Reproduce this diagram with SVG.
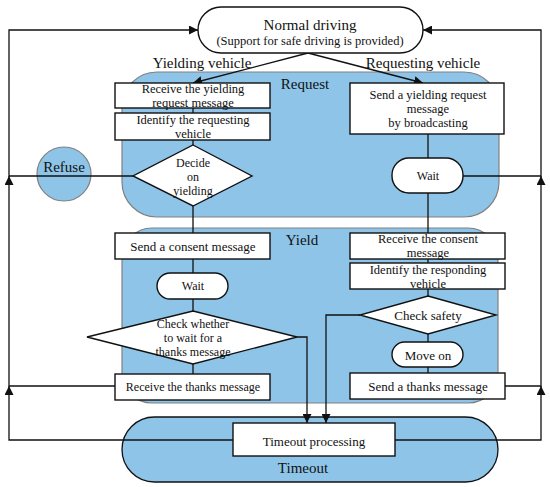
<svg xmlns="http://www.w3.org/2000/svg" width="550" height="487" viewBox="0 0 550 487">
<defs>
<style>
text{font-family:"Liberation Serif","Times New Roman",serif;fill:#111;text-anchor:middle;dominant-baseline:central}
.t13{font-size:13px}
.t12{font-size:12px}
.t125{font-size:12.5px}
.lbl{font-size:15px}
.region{fill:#8DC4E8;stroke:#808080;stroke-width:1.2}
.box{fill:#fff;stroke:#111;stroke-width:1.4}
.line{fill:none;stroke:#111;stroke-width:1.3}
</style>
<marker id="arr" viewBox="0 0 10 10" refX="10" refY="5" markerWidth="9" markerHeight="9" markerUnits="userSpaceOnUse" orient="auto">
<path d="M0,0 L10,5 L0,10 z" fill="#111"/>
</marker>
</defs>

<g id="regions">
<rect id="request-region" class="region" x="122" y="72" width="377" height="145" rx="35" ry="35"/>
<rect id="yield-region" class="region" x="122" y="228" width="376" height="175" rx="30" ry="30"/>
<rect id="timeout-region" x="122" y="417" width="376" height="65" rx="32.5" ry="32.5" fill="#8DC4E8" stroke="#111" stroke-width="1.3"/>
<circle id="refuse" cx="64" cy="174" r="27" fill="#8DC4E8" stroke="#808080" stroke-width="1.2"/>
</g>

<g id="labels">
<text class="lbl" x="202" y="63">Yielding vehicle</text>
<text class="lbl" x="423" y="63">Requesting vehicle</text>
<text class="lbl" x="305" y="84">Request</text>
<text class="lbl" x="302" y="240">Yield</text>
<text class="lbl" x="303" y="468">Timeout</text>
<text class="lbl" x="64" y="167">Refuse</text>
</g>

<g id="connectors">
<path class="line" d="M308,53 L193,83" marker-end="url(#arr)"/>
<path class="line" d="M308,53 L423,83" marker-end="url(#arr)"/>
<path class="line" d="M193,108 V113 M193,140 V145 M193,206 V233 M193,259 V273 M193,299 V311 M193,364 V374"/>
<path class="line" d="M428,134 V158 M428,193 V233 M428,259 V263 M428,289 V296 M428,334 V342 M428,367 V373"/>
<path class="line" d="M133,176 H9 V30 H198" marker-end="url(#arr)"/>
<path class="line" d="M115,386 H9 V176" marker-end="url(#arr)"/>
<path class="line" d="M233,440 H9 V386" marker-end="url(#arr)"/>
<path class="line" d="M463,176 H541 V30 H423" marker-end="url(#arr)"/>
<path class="line" d="M505,386 H541 V176" marker-end="url(#arr)"/>
<path class="line" d="M395,440 H541 V386" marker-end="url(#arr)"/>
<path class="line" d="M297,337 H307 V423" marker-end="url(#arr)"/>
<path class="line" d="M360,315 H326 V423" marker-end="url(#arr)"/>
</g>

<g id="normal-driving">
<rect class="box" x="198" y="7" width="225" height="46" rx="23" ry="23"/>
<text x="310" y="25" style="font-size:15px">Normal driving</text>
<text x="310" y="41" style="font-size:12.5px">(Support for safe driving is provided)</text>
</g>

<g id="receive-yielding-request">
<rect class="box" x="115" y="83" width="155" height="25"/>
<text class="t125" x="193" y="89">Receive the yielding</text>
<text class="t125" x="193" y="103">request message</text>
</g>

<g id="identify-requesting">
<rect class="box" x="115" y="113" width="155" height="27"/>
<text class="t125" x="193" y="120">Identify the requesting</text>
<text class="t125" x="193" y="134">vehicle</text>
</g>

<g id="decide-yielding">
<polygon class="box" points="193,145 252,176 193,206 133,176"/>
<text class="t12" x="193" y="163">Decide</text>
<text class="t12" x="193" y="177">on</text>
<text class="t12" x="193" y="191">yielding</text>
</g>

<g id="send-consent">
<rect class="box" x="115" y="233" width="155" height="26"/>
<text class="t13" x="193" y="246">Send a consent message</text>
</g>

<g id="wait-yielding">
<rect class="box" x="157" y="273" width="71" height="26" rx="13" ry="13"/>
<text class="t12" x="193" y="286">Wait</text>
</g>

<g id="check-wait-thanks">
<polygon class="box" points="193,311 297,337 193,364 87,337"/>
<text class="t12" x="193" y="324">Check whether</text>
<text class="t12" x="193" y="338">to wait for a</text>
<text class="t12" x="193" y="352">thanks message</text>
</g>

<g id="receive-thanks">
<rect class="box" x="115" y="374" width="155" height="26"/>
<text class="t12" x="193" y="387">Receive the thanks message</text>
</g>

<g id="send-yielding-request">
<rect class="box" x="350" y="83" width="154" height="51"/>
<text class="t125" x="428" y="95">Send a yielding request</text>
<text class="t125" x="428" y="109">message</text>
<text class="t125" x="428" y="123">by broadcasting</text>
</g>

<g id="wait-requesting">
<rect class="box" x="392" y="158" width="71" height="35" rx="17" ry="17"/>
<text class="t12" x="428" y="176">Wait</text>
</g>

<g id="receive-consent">
<rect class="box" x="350" y="233" width="155" height="26"/>
<text class="t125" x="428" y="239">Receive the consent</text>
<text class="t125" x="428" y="253">message</text>
</g>

<g id="identify-responding">
<rect class="box" x="350" y="263" width="155" height="26"/>
<text class="t125" x="428" y="269.5">Identify the responding</text>
<text class="t125" x="428" y="283.5">vehicle</text>
</g>

<g id="check-safety">
<polygon class="box" points="428,296 496,315 428,334 360,315"/>
<text class="t13" x="428" y="315">Check safety</text>
</g>

<g id="move-on">
<rect class="box" x="392" y="342" width="71" height="25" rx="12.5" ry="12.5"/>
<text class="t13" x="428" y="355">Move on</text>
</g>

<g id="send-thanks">
<rect class="box" x="350" y="373" width="155" height="26"/>
<text class="t13" x="428" y="386">Send a thanks message</text>
</g>

<g id="timeout-processing">
<rect class="box" x="233" y="423" width="162" height="33"/>
<text class="t13" x="314" y="441">Timeout processing</text>
</g>
</svg>
